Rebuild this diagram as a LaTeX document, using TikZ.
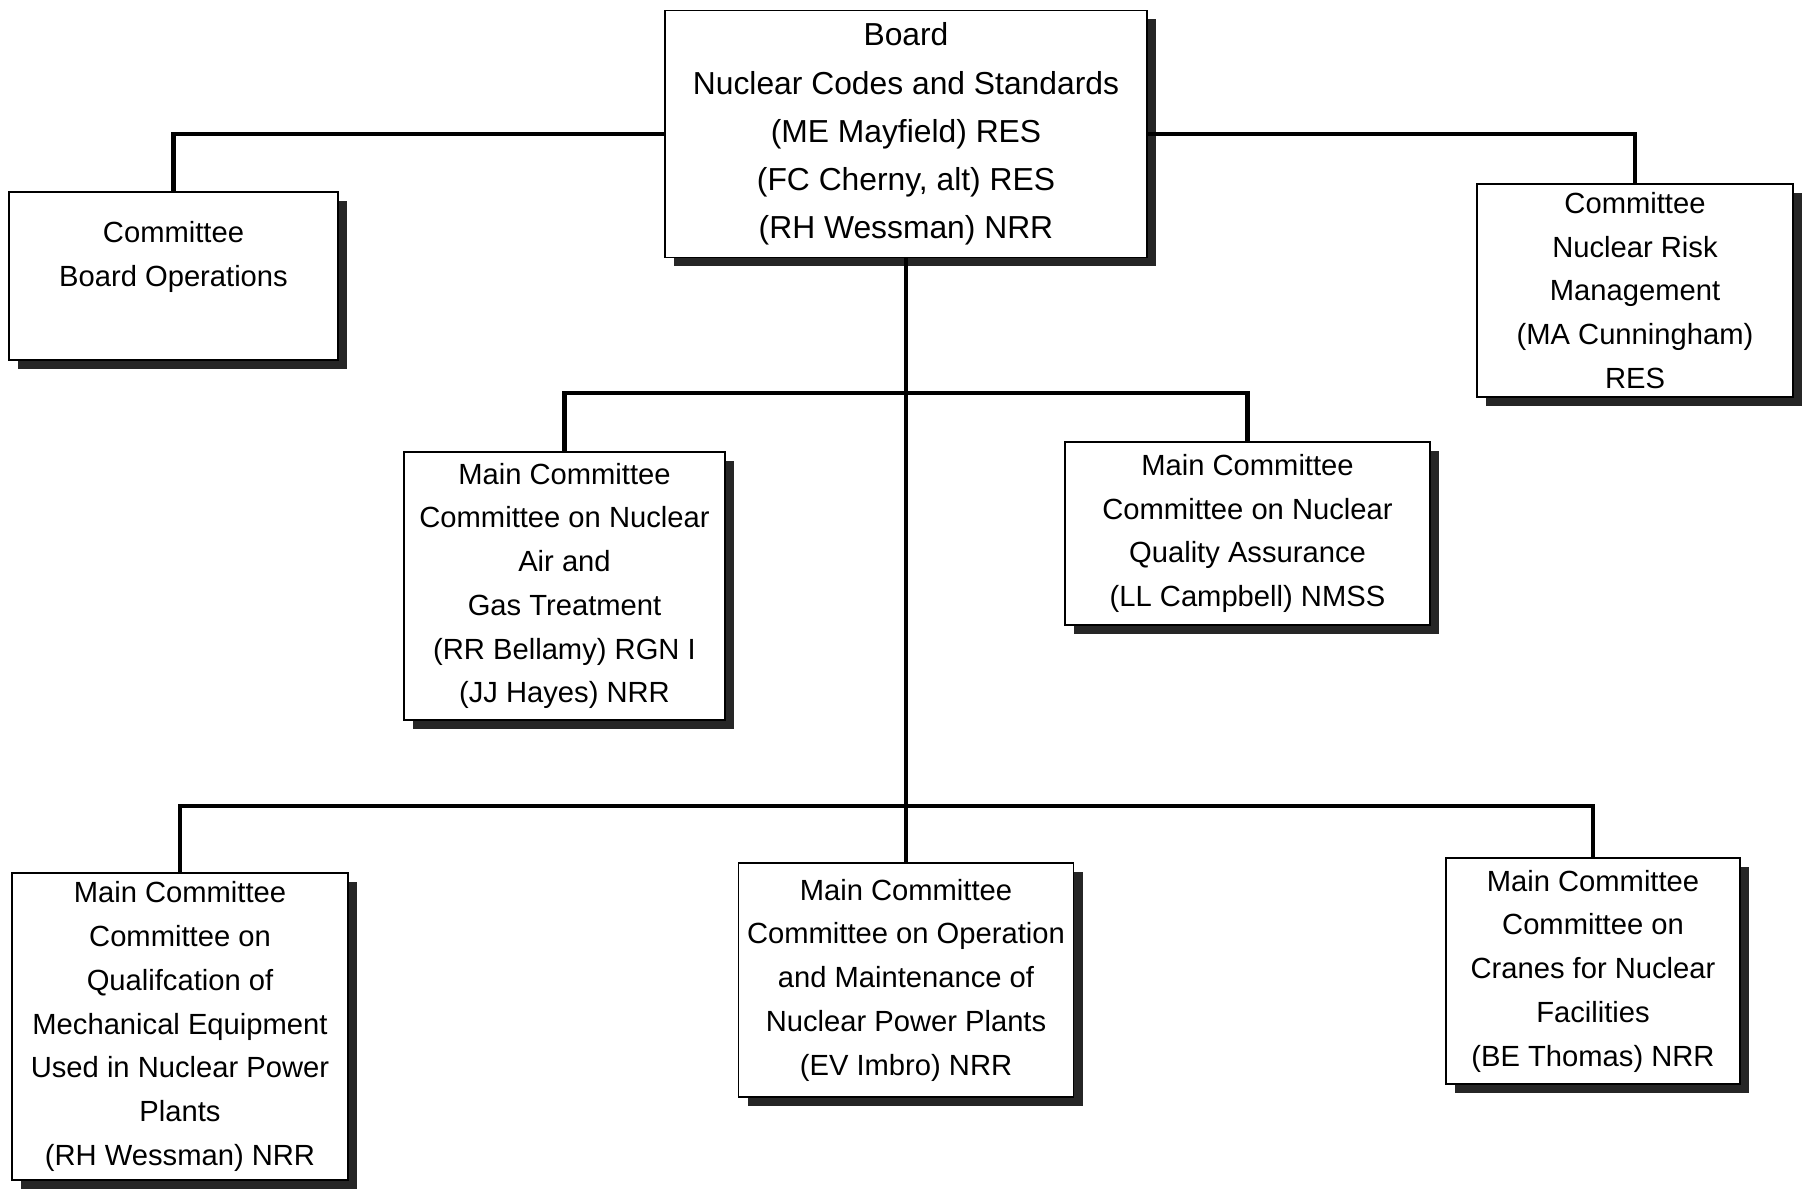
\documentclass[tikz,border=0pt]{standalone}
\usepackage{fontspec}
\setmainfont{Liberation Sans}
\usetikzlibrary{shadows}

\begin{document}
\begin{tikzpicture}[
    box/.style={draw, line width=0.5pt, fill=white, align=center, inner sep=0pt,
      font=\fontsize{8.3}{12.45}\selectfont,
      drop shadow={shadow xshift=0.9mm, shadow yshift=-0.9mm, fill=black!85, opacity=1}},
    link/.style={line width=1.3pt}
  ]
    \useasboundingbox (0, 0) rectangle (18.09, -11.93);

    \path (9.06, -1.34) node [box, minimum width=4.82cm, minimum height=2.47cm,
      font=\fontsize{9.05}{13.7}\selectfont] (bd)
      {Board\\Nuclear Codes and Standards\\(ME Mayfield) RES\\(FC Cherny, alt) RES\\(RH Wessman) NRR};
    \path (1.735, -2.76) node [box, minimum width=3.29cm, minimum height=1.68cm] (ops)
      {Committee\\Board Operations\\~};
    \path (16.35, -2.905) node [box, minimum width=3.16cm, minimum height=2.13cm] (risk)
      {Committee\\Nuclear Risk\\Management\\(MA Cunningham)\\RES};

    \path (5.645, -5.86) node [box, minimum width=3.21cm, minimum height=2.68cm] (air)
      {Main Committee\\Committee on Nuclear\\Air and\\Gas Treatment\\(RR Bellamy) RGN I\\(JJ Hayes) NRR};
    \path (12.475, -5.335) node [box, minimum width=3.65cm, minimum height=1.83cm] (qa)
      {Main Committee\\Committee on Nuclear\\Quality Assurance\\(LL Campbell) NMSS};

    \path (1.8, -10.265) node [box, minimum width=3.36cm, minimum height=3.07cm] (qual)
      {Main Committee\\Committee on\\Qualifcation of\\Mechanical Equipment\\Used in Nuclear Power\\Plants\\(RH Wessman) NRR};
    \path (9.06, -9.8) node [box, minimum width=3.35cm, minimum height=2.34cm] (om)
      {Main Committee\\Committee on Operation\\and Maintenance of\\Nuclear Power Plants\\(EV Imbro) NRR};
    \path (15.93, -9.71) node [box, minimum width=2.94cm, minimum height=2.26cm] (cr)
      {Main Committee\\Committee on\\Cranes for Nuclear\\Facilities\\(BE Thomas) NRR};

    % branch points on the trunk
    \coordinate (mid) at (9.06, -3.93);
    \coordinate (low) at (9.06, -8.06);

    \draw [link] (bd.west) -| (ops.north);
    \draw [link] (bd.east) -| (risk.north);
    \draw [link] (bd.south) -- (om.north);
    \draw [link] (air.north) |- (mid) -| (qa.north);
    \draw [link] (qual.north) |- (low) -| (cr.north);
\end{tikzpicture}
\end{document}
